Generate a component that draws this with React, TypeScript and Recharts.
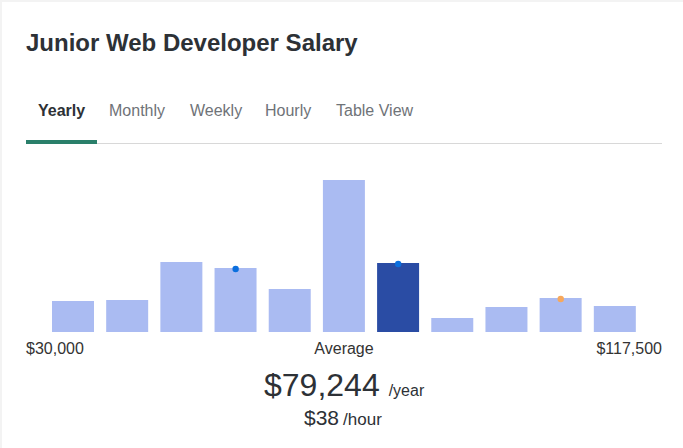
import React from "react";
import { ComposedChart, Bar, Scatter, XAxis, YAxis, Cell } from "recharts";

const bins = ["b1", "b2", "b3", "b4", "b5", "b6", "b7", "b8", "b9", "b10", "b11"];
const counts = [31, 32, 70, 64, 43, 152, 69, 14, 25, 34, 26];
const highlightIndex = 6;
const markerValues: (number | null)[] = [null, null, null, 63, null, null, 68, null, null, 33, null];
const markerColors = ["", "", "", "#0b6fde", "", "", "#0b6fde", "", "", "#f7a85c", ""];
const tabs = ["Yearly", "Monthly", "Weekly", "Hourly", "Table View"];
const tabX = [38, 109, 190, 265, 336];
const rangeLabels = ["$30,000", "Average", "$117,500"];
const title = "Junior Web Developer Salary";
const avgYearly = "$79,244";
const avgHourly = "$38";

const data = bins.map((b, i) => ({ bin: b, count: counts[i], marker: markerValues[i] }));

const FONT = "'Liberation Sans', Arial, sans-serif";

export default function App() {
  return (
    <div style={{ position: "absolute", left: 0, top: 0, width: 683, height: 448, background: "#f3f3f3", fontFamily: FONT, overflow: "hidden" }}>
      <div style={{ position: "absolute", left: 2, top: 2, width: 681, height: 446, background: "#fff" }} />
      <div style={{ position: "absolute", left: 26, top: 29, fontSize: 24, fontWeight: 700, color: "#2d3136", whiteSpace: "nowrap" }}>{title}</div>
      {tabs.map((t, i) => (
        <div key={t} style={{ position: "absolute", left: tabX[i], top: 102, fontSize: 16, fontWeight: i === 0 ? 700 : 400, color: i === 0 ? "#2d3136" : "#6f7378", whiteSpace: "nowrap" }}>{t}</div>
      ))}
      <div style={{ position: "absolute", left: 26, top: 143, width: 636, height: 1, background: "#d8d8d8" }} />
      <div style={{ position: "absolute", left: 26, top: 140, width: 71, height: 4, background: "#2a7f6a" }} />
      <div style={{ position: "absolute", left: 0, top: 0 }}>
        <ComposedChart width={683} height={448} data={data} margin={{ top: 180, bottom: 116, left: 46, right: 41 }} barCategoryGap={6}>
          <XAxis dataKey="bin" hide />
          <YAxis hide domain={[0, 152]} />
          <Bar dataKey="count" isAnimationActive={false}>
            {data.map((d, i) => (
              <Cell key={d.bin} fill={i === highlightIndex ? "#2a4ca4" : "#aabbf2"} />
            ))}
          </Bar>
          <Scatter
            dataKey="marker"
            isAnimationActive={false}
            shape={(p: any) => {
              if (p.payload == null || p.payload.marker == null) return <g />;
              const idx = bins.indexOf(p.payload.bin);
              return <circle cx={p.cx} cy={p.cy} r={3.2} fill={markerColors[idx]} />;
            }}
          />
        </ComposedChart>
      </div>
      <div style={{ position: "absolute", left: 26, top: 340, fontSize: 16, color: "#333", whiteSpace: "nowrap" }}>{rangeLabels[0]}</div>
      <div style={{ position: "absolute", left: 344, top: 340, transform: "translateX(-50%)", fontSize: 16, color: "#333", whiteSpace: "nowrap" }}>{rangeLabels[1]}</div>
      <div style={{ position: "absolute", right: 21, top: 340, fontSize: 16, color: "#333", whiteSpace: "nowrap" }}>{rangeLabels[2]}</div>
      <div style={{ position: "absolute", left: 264, top: 367, whiteSpace: "nowrap", color: "#2d3136" }}>
        <span style={{ fontSize: 32 }}>{avgYearly}</span>
        <span style={{ fontSize: 16, marginLeft: 9 }}>/year</span>
      </div>
      <div style={{ position: "absolute", left: 304, top: 406, whiteSpace: "nowrap", color: "#2d3136" }}>
        <span style={{ fontSize: 21 }}>{avgHourly}</span>
        <span style={{ fontSize: 17, marginLeft: 4 }}>/hour</span>
      </div>
    </div>
  );
}
